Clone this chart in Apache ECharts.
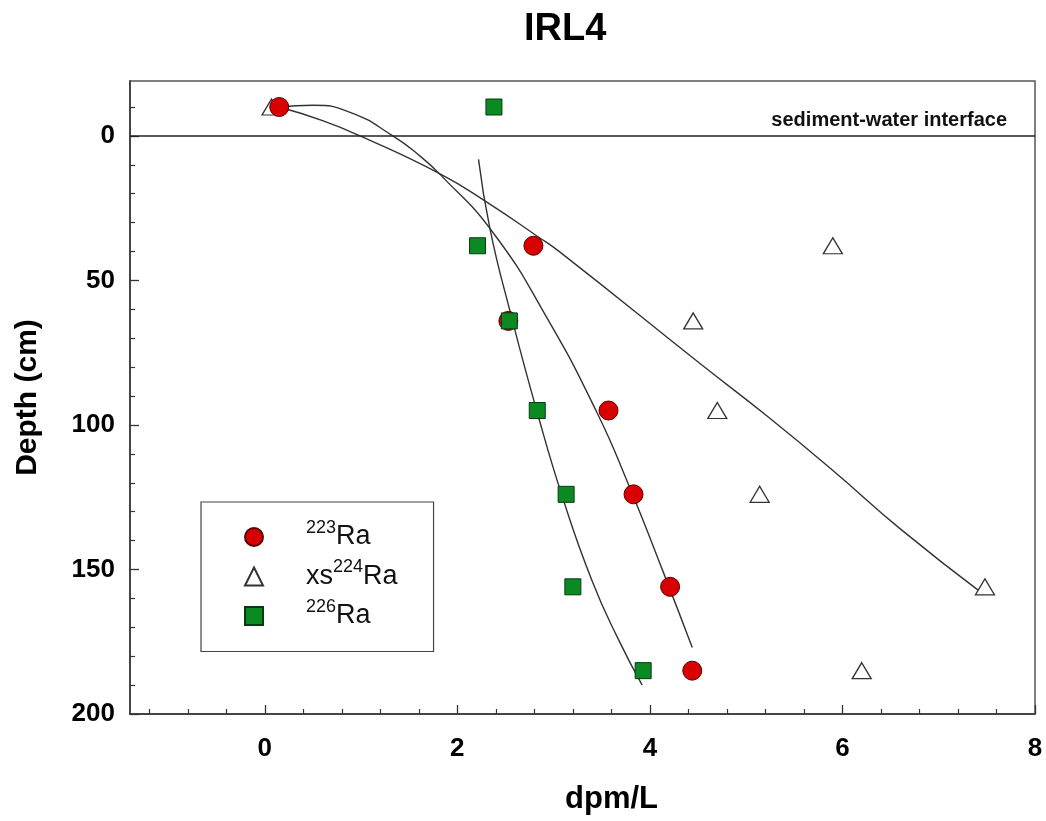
<!DOCTYPE html>
<html>
<head>
<meta charset="utf-8">
<script src="https://cdn.jsdelivr.net/npm/echarts@6/dist/echarts.min.js"></script>
<style>html,body{margin:0;padding:0;background:#fff}#c{width:1046px;height:821px}</style>
</head>
<body>
<div id="c"></div>
<script>
// ---- data ----
const depths = [-10, 38, 64, 95, 124, 156, 185];
const ra223 = [0.15, 2.79, 2.53, 3.57, 3.83, 4.21, 4.44];
const ra224xs = [0.07, 5.90, 4.45, 4.70, 5.14, 7.48, 6.20];
const ra226 = [2.38, 2.21, 2.54, 2.83, 3.13, 3.20, 3.93];

// fitted curves: [dpm/L, depth]
const fit223 = [[0.15,-10],[0.5,-10.6],[0.9,-8],[1.33,0],[1.61,6.9],[1.82,13.3],[2.37,33.4],[2.94,63.5],[3.45,95.7],[3.77,120],[4.14,151],[4.44,177]];
const fit224 = [[0.15,-10],[0.6,-5.3],[0.99,0],[1.83,13.3],[2.31,23],[2.83,34.7],[3.07,40.3],[4.53,79],[5.22,97],[5.91,116],[6.61,136.2],[7.47,158.7]];
const fit226 = [[2.22,8.1],[2.34,32.3],[2.55,61],[2.83,95.7],[3.10,125.8],[3.40,154],[3.67,174],[3.92,190]];

const xLabels = [0, 2, 4, 6, 8];
const xMinor = [-1.2,-0.8,-0.4,0.4,0.8,1.2,1.6,2.4,2.8,3.2,3.6,4.4,4.8,5.2,5.6,6.4,6.8,7.2,7.6];
const yLabels = [0, 50, 100, 150, 200];
const yMinor = [-10,10,20,30,40,60,70,80,90,110,120,130,140,160,170,180,190];

const names = ['223Ra', 'xs224Ra', '226Ra'];
const legendRich = {
  '223Ra': '{supL|223}{main|Ra}',
  'xs224Ra': '{mainL|xs}{sup|224}{main|Ra}',
  '226Ra': '{supL|226}{main|Ra}'
};

const pts = (xs) => xs.map((v, i) => [v, depths[i]]);
const FONT = '"Liberation Sans", Arial, sans-serif';
const axisCol = '#333';

const chart = echarts.init(document.getElementById('c'), null, {renderer: 'canvas'});
chart.setOption({
  backgroundColor: '#fff',
  animation: false,
  title: {
    text: 'IRL4', left: 519, top: 6,
    textStyle: {fontFamily: FONT, fontWeight: 'bold', fontSize: 38, color: '#000'}
  },
  grid: {left: 130, right: 11, top: 81, bottom: 107, show: true, borderColor: '#555', borderWidth: 1.5, backgroundColor: 'transparent'},
  legend: {
    data: names,
    orient: 'vertical',
    left: 201, top: 502,
    padding: [17, 36, 22, 43],
    itemGap: 8,
    itemWidth: 18, itemHeight: 18,
    backgroundColor: '#fff',
    borderColor: '#444', borderWidth: 1.2,
    selectedMode: false,
    formatter: (n) => legendRich[n],
    textStyle: {
      fontFamily: FONT, color: '#111',
      rich: {
        supL: {fontFamily: FONT, fontSize: 18, lineHeight: 18, verticalAlign: 'top', padding: [0, 0, 0, 38], color: '#111'},
        sup: {fontFamily: FONT, fontSize: 18, lineHeight: 18, verticalAlign: 'top', color: '#111'},
        main: {fontFamily: FONT, fontSize: 27, lineHeight: 36, color: '#111'},
        mainL: {fontFamily: FONT, fontSize: 27, lineHeight: 36, padding: [0, 0, 0, 38], color: '#111'}
      }
    }
  },
  xAxis: [{
    type: 'value', position: 'bottom', min: -1.4, max: 8,
    name: 'dpm/L', nameLocation: 'middle', nameGap: 70,
    nameTextStyle: {fontFamily: FONT, fontWeight: 'bold', fontSize: 31, color: '#000', padding: [0, 0, 0, 58]},
    axisLine: {show: true, onZero: false, lineStyle: {color: axisCol, width: 1.5}},
    axisTick: {show: true, inside: true, length: 9, customValues: xLabels, lineStyle: {color: axisCol, width: 1.3}},
    axisLabel: {customValues: xLabels, margin: 22, fontFamily: FONT, fontWeight: 'bold', fontSize: 26, color: '#000'},
    splitLine: {show: false}
  }, {
    type: 'value', position: 'bottom', min: -1.4, max: 8, offset: 0,
    axisLine: {show: false, onZero: false},
    axisTick: {show: true, inside: true, length: 5, customValues: xMinor, lineStyle: {color: axisCol, width: 1.2}},
    axisLabel: {show: false},
    splitLine: {show: false}
  }],
  yAxis: [{
    type: 'value', position: 'left', inverse: true, min: -19, max: 200,
    name: 'Depth (cm)', nameLocation: 'middle', nameGap: 87, nameRotate: 90,
    nameTextStyle: {fontFamily: FONT, fontWeight: 'bold', fontSize: 30, color: '#000'},
    axisLine: {show: true, onZero: false, lineStyle: {color: axisCol, width: 1.5}},
    axisTick: {show: true, inside: true, length: 9, customValues: yLabels, lineStyle: {color: axisCol, width: 1.3}},
    axisLabel: {customValues: yLabels, margin: 15, fontFamily: FONT, fontWeight: 'bold', fontSize: 26, color: '#000'},
    splitLine: {show: false}
  }, {
    type: 'value', position: 'left', inverse: true, min: -19, max: 200, offset: 0,
    axisLine: {show: false, onZero: false},
    axisTick: {show: true, inside: true, length: 5, customValues: yMinor, lineStyle: {color: axisCol, width: 1.2}},
    axisLabel: {show: false},
    splitLine: {show: false}
  }],
  series: [
    {
      name: 'fit226', type: 'line', data: fit226, smooth: 0.5, showSymbol: false, symbol: 'none', z: 2,
      lineStyle: {color: '#333', width: 1.4}, silent: true,
      markLine: {
        silent: true, symbol: 'none', animation: false,
        data: [{yAxis: 0}],
        lineStyle: {color: '#222', width: 1.6, type: 'solid'},
        label: {show: true, position: 'insideEndTop', formatter: 'sediment-water interface', distance: [28, 5],
          fontFamily: FONT, fontWeight: 'bold', fontSize: 20, color: '#111'}
      }
    },
    {name: 'fit223', type: 'line', data: fit223, smooth: 0.5, showSymbol: false, symbol: 'none', z: 2, lineStyle: {color: '#333', width: 1.4}, silent: true},
    {name: 'fit224', type: 'line', data: fit224, smooth: 0.5, showSymbol: false, symbol: 'none', z: 2, lineStyle: {color: '#333', width: 1.4}, silent: true},
    {
      name: 'xs224Ra', type: 'scatter', data: pts(ra224xs), symbol: 'triangle', symbolSize: [19, 16], z: 3,
      itemStyle: {color: '#fff', borderColor: '#333', borderWidth: 1.3, opacity: 1}
    },
    {
      name: '223Ra', type: 'scatter', data: pts(ra223), symbol: 'circle', symbolSize: 19, z: 4,
      itemStyle: {color: '#d80000', borderColor: '#5a0000', borderWidth: 1, opacity: 1}
    },
    {
      name: '226Ra', type: 'scatter', data: pts(ra226), symbol: 'rect', symbolSize: 16, z: 5,
      itemStyle: {color: '#0b8a23', borderColor: '#063b12', borderWidth: 1, opacity: 1}
    }
  ]
});
</script>
</body>
</html>
